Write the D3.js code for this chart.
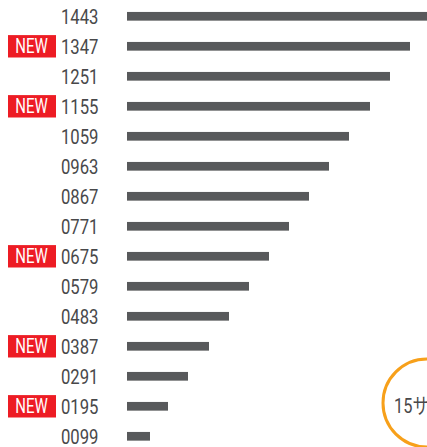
<!DOCTYPE html>
<html>
<head>
<meta charset="utf-8">
<script src="https://cdn.jsdelivr.net/npm/d3@7"></script>
<style>
  html, body { margin: 0; padding: 0; background: #fff; }
  svg { display: block; }
</style>
</head>
<body>
<script>
// item codes, top to bottom
const codes = ['1443', '1347', '1251', '1155', '1059', '0963', '0867', '0771',
               '0675', '0579', '0483', '0387', '0291', '0195', '0099'];
// bar lengths
const values = [300, 283, 263, 243, 222, 202, 182, 162, 142, 122, 102, 82, 61, 41, 23];
// codes flagged as new
const newCodes = ['1347', '1155', '0675', '0387', '0195'];
const badgeText = '15サンプル';

const width = 427, height = 447;
const barColor = '#58595b', textColor = '#48484a';
const red = '#ed1c24', orange = '#f7a01a';

const data = codes.map((c, i) => ({ code: c, value: values[i], isNew: newCodes.includes(c) }));

const svg = d3.select('body').append('svg')
  .attr('width', width)
  .attr('height', height);

const x = d3.scaleLinear().domain([0, 300]).range([127, 427]);
const y = d3.scalePoint().domain(codes).range([16.3, 436.3]);
const barH = 8.7;

const rows = svg.selectAll('.row')
  .data(data)
  .enter()
  .append('g')
  .attr('class', 'row')
  .attr('transform', d => 'translate(0,' + y(d.code) + ')');

rows.append('rect')
  .attr('x', x(0))
  .attr('y', -barH / 2)
  .attr('width', d => x(d.value) - x(0))
  .attr('height', barH)
  .attr('fill', barColor);

rows.append('text')
  .attr('x', 98.5)
  .attr('y', 7.3)
  .attr('text-anchor', 'end')
  .attr('textLength', 37.5)
  .attr('lengthAdjust', 'spacingAndGlyphs')
  .style('font-family', 'Roboto, sans-serif')
  .style('font-size', '20px')
  .attr('fill', textColor)
  .text(d => d.code);

let newRows = rows.filter(d => d.isNew);
newRows.append('rect')
  .attr('x', 8)
  .attr('y', -11.2)
  .attr('width', 48)
  .attr('height', 22.4)
  .attr('fill', red);
newRows.append('text')
  .attr('x', 31.5)
  .attr('y', 7)
  .attr('text-anchor', 'middle')
  .attr('textLength', 32.5)
  .attr('lengthAdjust', 'spacingAndGlyphs')
  .style('font-family', 'Roboto, sans-serif')
  .style('font-size', '19.5px')
  .attr('fill', '#fff')
  .text('NEW');

// orange ring in the lower right corner, cut by the edge
let ring = svg.append('g').attr('transform', 'translate(427,403)');
ring.append('circle')
  .attr('r', 44)
  .attr('fill', 'none')
  .attr('stroke', orange)
  .attr('stroke-width', 3);
ring.append('text')
  .attr('transform', 'translate(-33,10) scale(0.78,1)')
  .style('font-family', 'Roboto, "Noto Sans CJK JP", sans-serif')
  .style('font-size', '21px')
  .attr('fill', textColor)
  .text(badgeText);
</script>
</body>
</html>
